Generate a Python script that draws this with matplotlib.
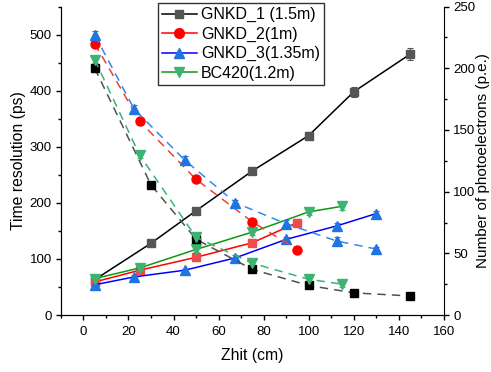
import matplotlib
matplotlib.use('Agg')
import matplotlib.pyplot as plt
from matplotlib.lines import Line2D
from matplotlib.ticker import MultipleLocator

plt.rcParams['font.family'] = ['Liberation Sans', 'DejaVu Sans']

# Time resolution (ps), solid lines, left axis
x_gnkd1 = [5, 30, 50, 75, 100, 120, 145]
tr_gnkd1 = [63, 128, 186, 257, 320, 398, 465]
tr_gnkd1_err = [4, 4, 5, 5, 7, 9, 11]

x_gnkd2 = [5, 25, 50, 75, 95]
tr_gnkd2 = [59, 80, 103, 129, 165]
tr_gnkd2_err = [4, 5, 6, 6, 7]

x_gnkd3 = [5, 22.5, 45, 67.5, 90, 112.5, 130]
tr_gnkd3 = [54, 68, 80, 102, 135, 159, 181]
tr_gnkd3_err = [3, 3, 3, 5, 5, 5, 5]

x_bc420 = [5, 25, 50, 75, 100, 115]
tr_bc420 = [65, 84, 117, 148, 184, 194]
tr_bc420_err = [4, 4, 5, 5, 6, 6]

# Number of photoelectrons (p.e.), dashed lines, right axis
pe_gnkd1 = [200, 105.5, 61.5, 37, 24, 18, 15.5]
pe_gnkd1_err = [3, 2, 2, 2, 2, 2.5, 2.5]
pe_gnkd2 = [220, 157, 110, 75.5, 53]
pe_gnkd2_err = [3, 3, 2, 2, 2]
pe_gnkd3 = [227, 167, 125.5, 91, 74, 60, 53.5]
pe_gnkd3_err = [3, 3, 3, 2, 3, 3, 2]
pe_bc420 = [207, 129.5, 63, 42, 29, 25]
pe_bc420_err = [3, 2, 3, 3, 2, 2]

labels = ['GNKD_1 (1.5m)', 'GNKD_2(1m)', 'GNKD_3(1.35m)', 'BC420(1.2m)']

# Create the figure
fig, ax = plt.subplots(figsize=(4.91, 3.72), dpi=100)
fig.subplots_adjust(left=0.124, right=0.904, bottom=0.153, top=0.9825)
ax2 = ax.twinx()

ms = 5.5
eb = dict(capsize=2, elinewidth=0.8, capthick=0.8)

# solid lines
ax.errorbar(x_gnkd1, tr_gnkd1, yerr=tr_gnkd1_err, color='black', lw=1.1,
            marker='s', ms=ms, mfc='#555555', mec='#555555', ecolor='#555555', **eb)
ax.errorbar(x_gnkd2, tr_gnkd2, yerr=tr_gnkd2_err, color='#ff0000', lw=1.1,
            marker='s', ms=ms, mfc='#f04a4a', mec='#f04a4a', ecolor='#f04a4a', **eb)
ax.errorbar(x_gnkd3, tr_gnkd3, yerr=tr_gnkd3_err, color='#0000ff', lw=1.1,
            marker='^', ms=ms + 1, mfc='#1f74e0', mec='#1f74e0', ecolor='#1f74e0', **eb)
ax.errorbar(x_bc420, tr_bc420, yerr=tr_bc420_err, color='#0a9a0a', lw=1.1,
            marker='v', ms=ms + 1, mfc='#3cb371', mec='#3cb371', ecolor='#3cb371', **eb)

# dashed lines
dash = (0, (5.5, 4))
ax2.errorbar(x_gnkd1, pe_gnkd1, yerr=pe_gnkd1_err, color='#505050', lw=1.1, ls=dash,
             marker='s', ms=ms, mfc='black', mec='black', ecolor='black', **eb)
ax2.errorbar(x_gnkd2, pe_gnkd2, yerr=pe_gnkd2_err, color='#e8413c', lw=1.1, ls=dash,
             marker='o', ms=ms + 1, mfc='#ff0000', mec='#ff0000', ecolor='#ff0000', **eb)
ax2.errorbar(x_gnkd3, pe_gnkd3, yerr=pe_gnkd3_err, color='#3a86e8', lw=1.1, ls=dash,
             marker='^', ms=ms + 1, mfc='#1f74e0', mec='#1f74e0', ecolor='#1f74e0', **eb)
ax2.errorbar(x_bc420, pe_bc420, yerr=pe_bc420_err, color='#3cb371', lw=1.1, ls=dash,
             marker='v', ms=ms + 1, mfc='#3cb371', mec='#3cb371', ecolor='#3cb371', **eb)

# axes
ax.set_xlim(-10, 160)
ax.set_ylim(0, 550)
ax2.set_ylim(0, 250)
ax.xaxis.set_major_locator(MultipleLocator(20))
ax.xaxis.set_minor_locator(MultipleLocator(10))
ax.yaxis.set_major_locator(MultipleLocator(100))
ax.yaxis.set_minor_locator(MultipleLocator(50))
ax2.yaxis.set_major_locator(MultipleLocator(50))
ax2.yaxis.set_minor_locator(MultipleLocator(25))
for a in (ax, ax2):
    a.spines['top'].set_visible(False)
    a.tick_params(which='major', direction='out', length=3.6, width=1, labelsize=9.5, pad=3)
    a.tick_params(which='minor', direction='out', length=2.2, width=1)
ax.spines['right'].set_visible(False)
ax.tick_params(axis='x', pad=4)

ax.set_xlabel('Zhit (cm)', fontsize=11.3)
ax.set_ylabel('Time resolution (ps)', fontsize=11.3)
ax2.set_ylabel('Number of photoelectrons (p.e.)', fontsize=11)
ax.xaxis.set_label_coords(0.5, -0.107)
ax.yaxis.set_label_coords(-0.091, 0.5)
ax2.yaxis.set_label_coords(1.084, 0.5)

# legend
handles = [
    Line2D([], [], color='black', lw=1.1, marker='s', ms=ms + 0.5, mfc='#555555', mec='#555555'),
    Line2D([], [], color='#ff0000', lw=1.1, marker='o', ms=ms + 1.5, mfc='#ff0000', mec='#ff0000'),
    Line2D([], [], color='#0000ff', lw=1.1, marker='^', ms=ms + 1.5, mfc='#1f74e0', mec='#1f74e0'),
    Line2D([], [], color='#0a9a0a', lw=1.1, marker='v', ms=ms + 1.5, mfc='#3cb371', mec='#3cb371'),
]
leg = ax2.legend(handles, labels, loc='upper left', bbox_to_anchor=(0.253, 1.011),
                 fontsize=11.5, frameon=True, fancybox=False, handlelength=2.2,
                 handletextpad=0.25, labelspacing=0.28, borderpad=0.25, borderaxespad=0)
leg.get_frame().set_edgecolor('black')
leg.get_frame().set_linewidth(1.0)

fig.savefig('out.png', dpi=100)
